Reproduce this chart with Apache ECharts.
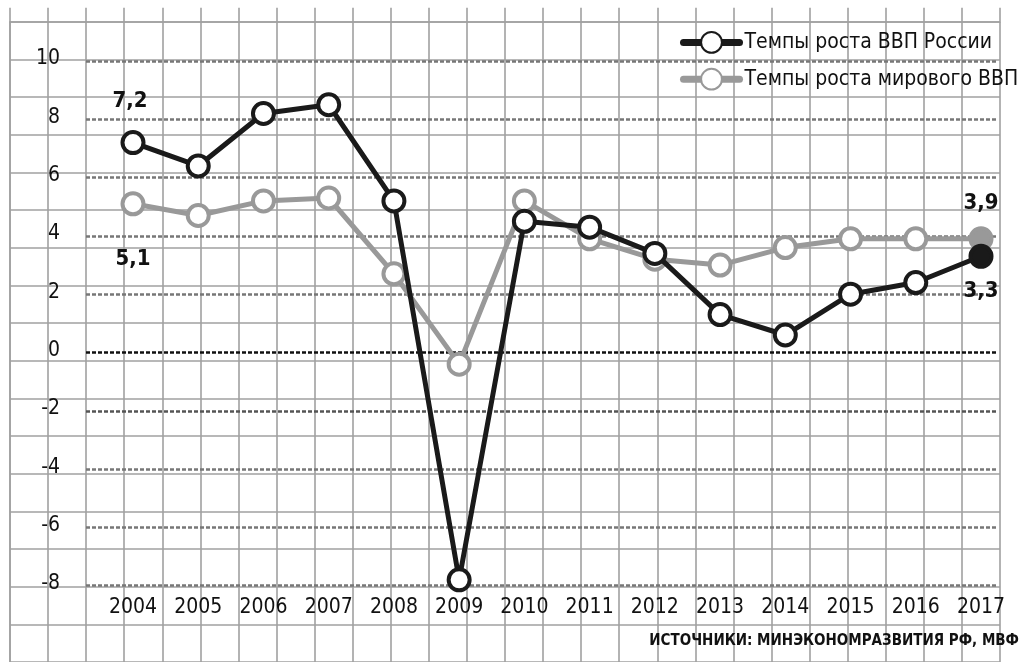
<!DOCTYPE html>
<html>
<head>
<meta charset="utf-8">
<script src="https://cdn.jsdelivr.net/npm/echarts/dist/echarts.min.js"></script>
<style>
  html, body { margin: 0; padding: 0; background: #fff; }
  #chart { width: 1026px; height: 662px; }
</style>
</head>
<body>
<div id="chart"></div>
<script>
// годы и данные (темпы роста ВВП, %)
var years = ['2004','2005','2006','2007','2008','2009','2010','2011','2012','2013','2014','2015','2016','2017'];
var russiaGdp = [7.2, 6.4, 8.2, 8.5, 5.2, -7.8, 4.5, 4.3, 3.4, 1.3, 0.6, 2.0, 2.4, 3.3];
var worldGdp = [5.1, 4.7, 5.2, 5.3, 2.7, -0.4, 5.2, 3.9, 3.2, 3.0, 3.6, 3.9, 3.9, 3.9];
var yTicks = [-8, -6, -4, -2, 0, 2, 4, 6, 8, 10];

var FONT = '"DejaVu Sans Condensed", "Liberation Sans Narrow", sans-serif';
var BLACK = '#1a1a1a';
var GREY = '#999999';
var PAPER = '#a0a0a0';

var myChart = echarts.init(document.getElementById('chart'));

function fmt(p) {
  return String(p.value).replace('.', ',');
}

// подписи только у первой и последней точки
function buildData(vals, color, firstPos, firstDist, lastPos, lastDist, firstOffset) {
  return vals.map(function (v, i) {
    var item = { value: v };
    if (i === 0) {
      item.label = { show: true, position: firstPos, distance: firstDist, offset: firstOffset || [0, 0] };
    }
    if (i === vals.length - 1) {
      item.label = { show: true, position: lastPos, distance: lastDist };
      item.itemStyle = { color: color };
    }
    return item;
  });
}

var labelStyle = {
  formatter: fmt,
  fontFamily: FONT,
  fontWeight: 'bold',
  fontSize: 22,
  color: '#111'
};

var option = {
  animation: false,
  backgroundColor: '#fff',
  textStyle: { fontFamily: FONT },
  title: {
    text: 'ИСТОЧНИКИ: МИНЭКОНОМРАЗВИТИЯ РФ, МВФ',
    right: 2,
    bottom: 8,
    textStyle: { fontFamily: FONT, fontWeight: 'bold', fontSize: 15, color: '#111' }
  },
  legend: {
    orient: 'vertical',
    left: 680,
    top: 31,
    itemWidth: 56,
    itemHeight: 26,
    itemGap: 14,
    padding: 0,
    data: [
      { name: 'Темпы роста ВВП России', lineStyle: { width: 7, cap: 'round' } },
      { name: 'Темпы роста мирового ВВП', lineStyle: { width: 7, cap: 'round' } }
    ],
    textStyle: { fontFamily: FONT, fontSize: 21, color: '#111' }
  },
  grid: [
    // данные
    { left: 133, right: 45, top: 61, bottom: 76.3 },
    // ось Y с пунктиром
    { left: 86, right: 28, top: 61, bottom: 76.3 },
    // миллиметровка
    { left: 10, right: 26, top: 21.7, bottom: -3.15 }
  ],
  xAxis: [
    {
      gridIndex: 0,
      type: 'category',
      data: years,
      boundaryGap: false,
      axisLine: { show: false },
      axisTick: { show: false },
      axisLabel: { interval: 0, margin: 11, fontFamily: FONT, fontSize: 21, color: '#111' },
      z: 3
    },
    { gridIndex: 1, type: 'value', show: false, min: 0, max: 1 },
    {
      gridIndex: 2,
      type: 'value',
      position: 'top',
      min: 0,
      max: 26,
      interval: 1,
      axisLine: { show: true, lineStyle: { color: PAPER, width: 1.6 } },
      axisTick: { show: true, inside: false, length: 14, lineStyle: { color: PAPER, width: 1.6 } },
      axisLabel: { show: false },
      splitLine: { show: true, lineStyle: { color: PAPER, width: 1.6 } },
      z: 0
    }
  ],
  yAxis: [
    { gridIndex: 0, type: 'value', min: -8, max: 10, show: false },
    {
      gridIndex: 1,
      type: 'value',
      min: -8,
      max: 10,
      interval: 2,
      axisLine: { show: false },
      axisTick: { show: false },
      axisLabel: {
        margin: 26,
        fontFamily: FONT,
        fontSize: 21,
        color: '#111',
        verticalAlign: 'bottom',
        lineHeight: 22,
        padding: [0, 0, -9, 0],
        formatter: function (v) { return yTicks.indexOf(v) >= 0 ? String(v) : ''; }
      },
      splitLine: {
        show: true,
        lineStyle: {
          color: ['#777', '#777', '#777', '#555', '#111', '#777', '#777', '#777', '#777', '#777'],
          width: 2.5,
          type: [4, 2]
        }
      },
      z: 1
    },
    {
      gridIndex: 2,
      type: 'value',
      inverse: true,
      min: 0,
      max: 17,
      interval: 1,
      axisLine: { show: true, lineStyle: { color: PAPER, width: 1.6 } },
      axisTick: { show: false },
      axisLabel: { show: false },
      splitLine: { show: true, lineStyle: { color: PAPER, width: 1.6 } },
      z: 0
    }
  ],
  series: [
    {
      name: 'Темпы роста мирового ВВП',
      type: 'line',
      xAxisIndex: 0,
      yAxisIndex: 0,
      z: 3,
      symbol: 'circle',
      symbolSize: 21,
      showAllSymbol: true,
      lineStyle: { color: GREY, width: 5 },
      itemStyle: { color: '#fff', borderColor: GREY, borderWidth: 4 },
      label: labelStyle,
      data: buildData(worldGdp, GREY, 'bottom', 32, 'top', 12)
    },
    {
      name: 'Темпы роста ВВП России',
      type: 'line',
      xAxisIndex: 0,
      yAxisIndex: 0,
      z: 4,
      symbol: 'circle',
      symbolSize: 21,
      showAllSymbol: true,
      lineStyle: { color: BLACK, width: 5 },
      itemStyle: { color: '#fff', borderColor: BLACK, borderWidth: 4 },
      label: labelStyle,
      data: buildData(russiaGdp, BLACK, 'top', 18, 'bottom', 11, [-3, 0])
    }
  ]
};

myChart.setOption(option);
</script>
</body>
</html>
